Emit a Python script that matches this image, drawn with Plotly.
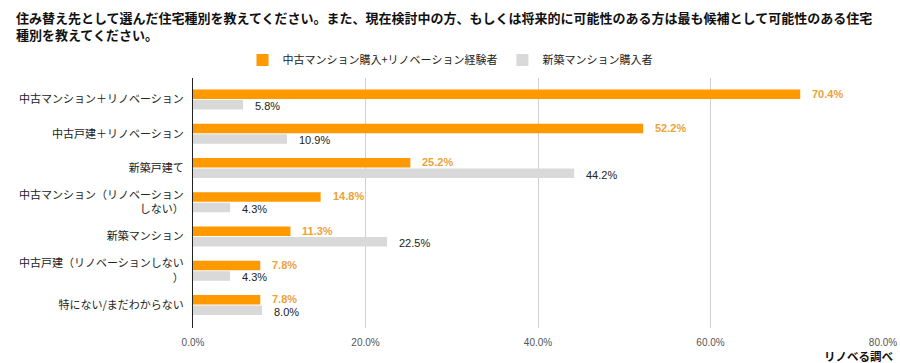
import plotly.graph_objects as go

categories = [
    "中古マンション＋リノベーション",
    "中古戸建＋リノベーション",
    "新築戸建て",
    "中古マンション（リノベーション<br>しない）",
    "新築マンション",
    "中古戸建（リノベーションしない<br>）",
    "特にない/まだわからない",
]
series_names = ["中古マンション購入+リノベーション経験者", "新築マンション購入者"]
renov_values = [70.4, 52.2, 25.2, 14.8, 11.3, 7.8, 7.8]
new_values = [5.8, 10.9, 44.2, 4.3, 22.5, 4.3, 8.0]
tick_vals = [0, 20, 40, 60, 80]
tick_text = ["0.0%", "20.0%", "40.0%", "60.0%", "80.0%"]
title_text = ("住み替え先として選んだ住宅種別を教えてください。また、現在検討中の方、もしくは将来的に可能性のある方は最も候補として可能性のある住宅"
              "<br>種別を教えてください。")
source_text = "リノベる調べ"

JP = "Noto Sans CJK JP, Noto Sans, sans-serif"
LAT = "Liberation Sans, Arial, sans-serif"
ORANGE = "#FF9900"
GRAY = "#D9D9D9"

W, H = 900, 363
L, R, T, B = 193, 17, 78, 35
pw, ph = W - L - R, H - T - B


def px_x(x):
    return (x - L) / pw


def px_y(y):
    return (H - B - y) / ph


fig = go.Figure()
fig.add_trace(go.Bar(
    y=categories, x=renov_values, name=series_names[0], orientation="h",
    marker=dict(color=ORANGE, line=dict(width=0)),
))
fig.add_trace(go.Bar(
    y=categories, x=new_values, name=series_names[1], orientation="h",
    marker=dict(color=GRAY, line=dict(width=0)),
))

annotations = []
for i, v in enumerate(renov_values):
    annotations.append(dict(
        x=v, y=i - 0.17, xref="x", yref="y", text=f"<b>{v:.1f}%</b>",
        showarrow=False, xanchor="left", yanchor="middle", xshift=10,
        font=dict(family=LAT, size=11, color="#EDA23A"),
    ))
for i, v in enumerate(new_values):
    annotations.append(dict(
        x=v, y=i + 0.19, xref="x", yref="y", text=f"{v:.1f}%",
        showarrow=False, xanchor="left", yanchor="middle", xshift=10,
        font=dict(family=LAT, size=11, color="#222222"),
    ))
annotations.append(dict(
    x=px_x(895), y=px_y(356), xref="paper", yref="paper",
    xanchor="right", yanchor="middle",
    text=f"<b>{source_text}</b>", showarrow=False,
    font=dict(family=JP, size=11.5, color="#111111"),
))
annotations.append(dict(
    x=px_x(14), y=px_y(26), xref="paper", yref="paper",
    xanchor="left", yanchor="middle", align="left", showarrow=False,
    text=f"<b>{title_text}</b>",
    font=dict(family=JP, size=13, color="#111111"),
))

# category band of ~34.25px, first group centred ~21.5px below the plot top
band = 34.25
top_units = 21.5 / band
fig.update_layout(
    width=W, height=H,
    margin=dict(l=L, r=R, t=T, b=B, autoexpand=False),
    paper_bgcolor="white", plot_bgcolor="white",
    barmode="group", bargap=0.38, bargroupgap=0.1,
    legend=dict(
        orientation="h", x=0.5, xanchor="center", xref="container",
        y=1 - 60 / H, yanchor="middle", yref="container",
        font=dict(family=JP, size=11, color="#222222"),
        traceorder="normal",
    ),
    xaxis=dict(
        range=[0, 80], tickvals=tick_vals, ticktext=tick_text,
        showgrid=True, gridcolor="#D0D0D0", gridwidth=1,
        zeroline=False, showline=False, automargin=False,
        tickfont=dict(family=LAT, size=10, color="#555555"),
        ticks="", ticklen=0, ticklabelstandoff=7,
    ),
    yaxis=dict(
        range=[-top_units + ph / band, -top_units],
        showline=True, linecolor="#222222", linewidth=1,
        showgrid=False, ticks="", ticklabelstandoff=6, automargin=False,
        tickfont=dict(family=JP, size=11, color="#222222"),
    ),
    annotations=annotations,
    showlegend=True,
)

fig.write_html(
    "out.html",
    config={"displayModeBar": False},
    post_script="document.body.style.margin='0';document.body.style.overflow='hidden';",
)
